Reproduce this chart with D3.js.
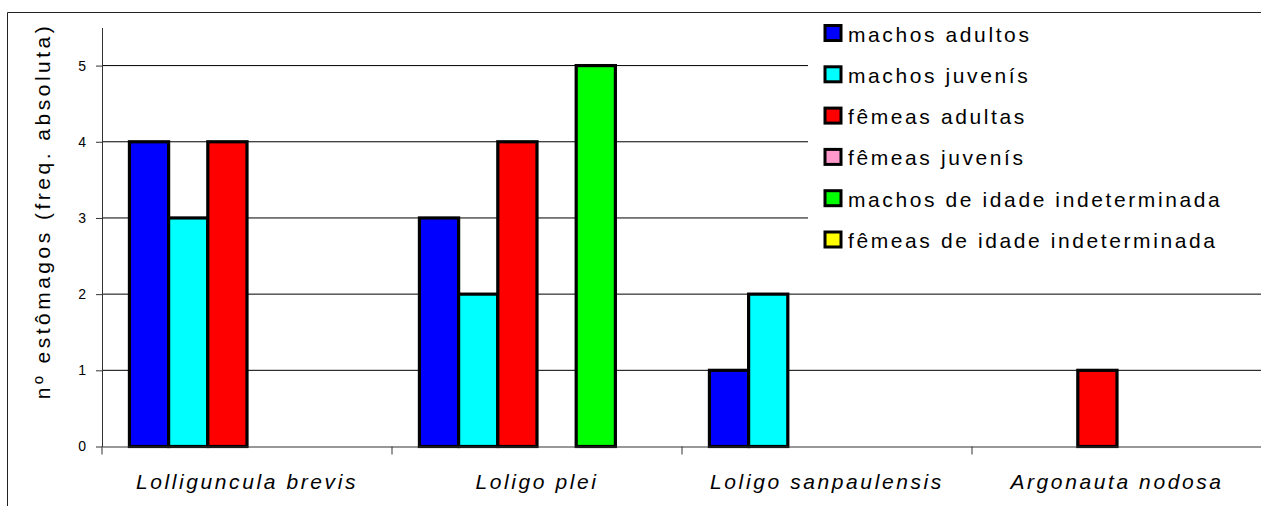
<!DOCTYPE html>
<html>
<head>
<meta charset="utf-8">
<script src="https://cdn.jsdelivr.net/npm/d3@7"></script>
<style>
  html, body { margin: 0; padding: 0; background: #fff; }
  svg { display: block; font-family: "Liberation Sans", Arial, sans-serif; }
</style>
</head>
<body>
<svg id="chart" width="1261" height="506"></svg>
<script>
// Species (categories along the x axis)
const species = ["Lolliguncula brevis", "Loligo plei", "Loligo sanpaulensis", "Argonauta nodosa"];

// Groups of individuals (one bar series each)
const groups = [
  "machos adultos",
  "machos juvenís",
  "fêmeas adultas",
  "fêmeas juvenís",
  "machos de idade indeterminada",
  "fêmeas de idade indeterminada"
];
const groupColors = ["#0000ff", "#00ffff", "#ff0000", "#ff99cc", "#00ff00", "#ffff00"];

// Number of stomachs per species, one array per group (same order as species)
const machosAdultos      = [4, 3, 1, 0];
const machosJuvenis      = [3, 2, 2, 0];
const femeasAdultas      = [4, 4, 0, 1];
const femeasJuvenis      = [0, 0, 0, 0];
const machosIndeterm     = [0, 5, 0, 0];
const femeasIndeterm     = [0, 0, 0, 0];
const seriesValues = [machosAdultos, machosJuvenis, femeasAdultas, femeasJuvenis, machosIndeterm, femeasIndeterm];

const yTicks = [0, 1, 2, 3, 4, 5];
const yTitle = "nº estômagos (freq. absoluta)";

const svg = d3.select("#chart");

// Plot region
const plotLeft = 102, plotRight = 1262, plotTop = 27.5, plotBottom = 446.5;

const x0 = d3.scaleBand().domain(species).range([plotLeft, plotRight]).padding(0);
const x1 = d3.scaleBand().domain(d3.range(groups.length))
  .range([0, x0.bandwidth()]).paddingInner(0).paddingOuter(0.7);
const y = d3.scaleLinear().domain([0, 5.5]).range([plotBottom, plotTop]);

// Outer chart frame (top and left edges visible)
svg.append("path")
  .attr("d", "M7.5,506 V12.5 H1261")
  .attr("fill", "none").attr("stroke", "#222").attr("stroke-width", 1);

// Horizontal gridlines
svg.append("g").selectAll("line")
  .data(yTicks.filter(t => t > 0))
  .join("line")
  .attr("x1", plotLeft).attr("x2", plotRight)
  .attr("y1", d => y(d)).attr("y2", d => y(d))
  .attr("stroke", "#000").attr("stroke-width", 1);

// Bars
const rows = [];
species.forEach((sp, i) => {
  seriesValues.forEach((vals, k) => {
    if (vals[i] > 0) rows.push({ sp, k, v: vals[i] });
  });
});
svg.append("g").selectAll("rect")
  .data(rows)
  .join("rect")
  .attr("x", d => x0(d.sp) + x1(d.k))
  .attr("y", d => y(d.v))
  .attr("width", x1.bandwidth())
  .attr("height", d => y(0) - y(d.v))
  .attr("fill", d => groupColors[d.k])
  .attr("stroke", "#000")
  .attr("stroke-width", 3.2);

// Y axis
const yAxis = svg.append("g")
  .attr("transform", `translate(${plotLeft},0)`)
  .call(d3.axisLeft(y).tickValues(yTicks).tickFormat(d3.format("d")).tickSize(6).tickPadding(10).tickSizeOuter(0));
yAxis.select(".domain").attr("stroke", "#333");
yAxis.selectAll(".tick line").attr("stroke", "#333");
yAxis.selectAll(".tick text")
  .attr("fill", "#000")
  .style("font-size", "14px")
  .style("font-family", "'Liberation Sans', Arial, sans-serif");

// X axis
const xAxis = svg.append("g")
  .attr("transform", `translate(0,${plotBottom})`)
  .call(d3.axisBottom(x0).tickSize(0).tickFormat(""));
xAxis.select(".domain").attr("stroke", "#333");
xAxis.selectAll(".tick").remove();
const bounds = species.map(s => x0(s)).concat([plotRight]);
xAxis.append("g").selectAll("line")
  .data(bounds)
  .join("line")
  .attr("x1", d => d).attr("x2", d => d)
  .attr("y1", 0).attr("y2", 8)
  .attr("stroke", "#333");

// Category labels
svg.append("g").selectAll("text")
  .data(species)
  .join("text")
  .attr("x", d => x0(d) + x0.bandwidth() / 2)
  .attr("y", 489)
  .attr("text-anchor", "middle")
  .style("font-size", "21px")
  .style("font-style", "italic")
  .style("letter-spacing", "2.6px")
  .text(d => d);

// Y axis title
svg.append("text")
  .attr("transform", "translate(50,211) rotate(-90)")
  .attr("text-anchor", "middle")
  .style("font-size", "21px")
  .style("letter-spacing", "3.5px")
  .text(yTitle);

// Legend
const legend = svg.append("g");
legend.append("rect")
  .attr("x", 808).attr("y", 13).attr("width", 460).attr("height", 248)
  .attr("fill", "#fff");
const item = legend.selectAll("g.item")
  .data(groups)
  .join("g")
  .attr("class", "item")
  .attr("transform", (d, i) => `translate(0,${41.5 + i * 41.3})`);
item.append("rect")
  .attr("x", 825).attr("y", -16).attr("width", 16).attr("height", 15)
  .attr("fill", (d, i) => groupColors[i])
  .attr("stroke", "#000").attr("stroke-width", 3);
item.append("text")
  .attr("x", 848).attr("y", 0)
  .style("font-size", "21px")
  .style("letter-spacing", "2.6px")
  .text(d => d);
</script>
</body>
</html>
